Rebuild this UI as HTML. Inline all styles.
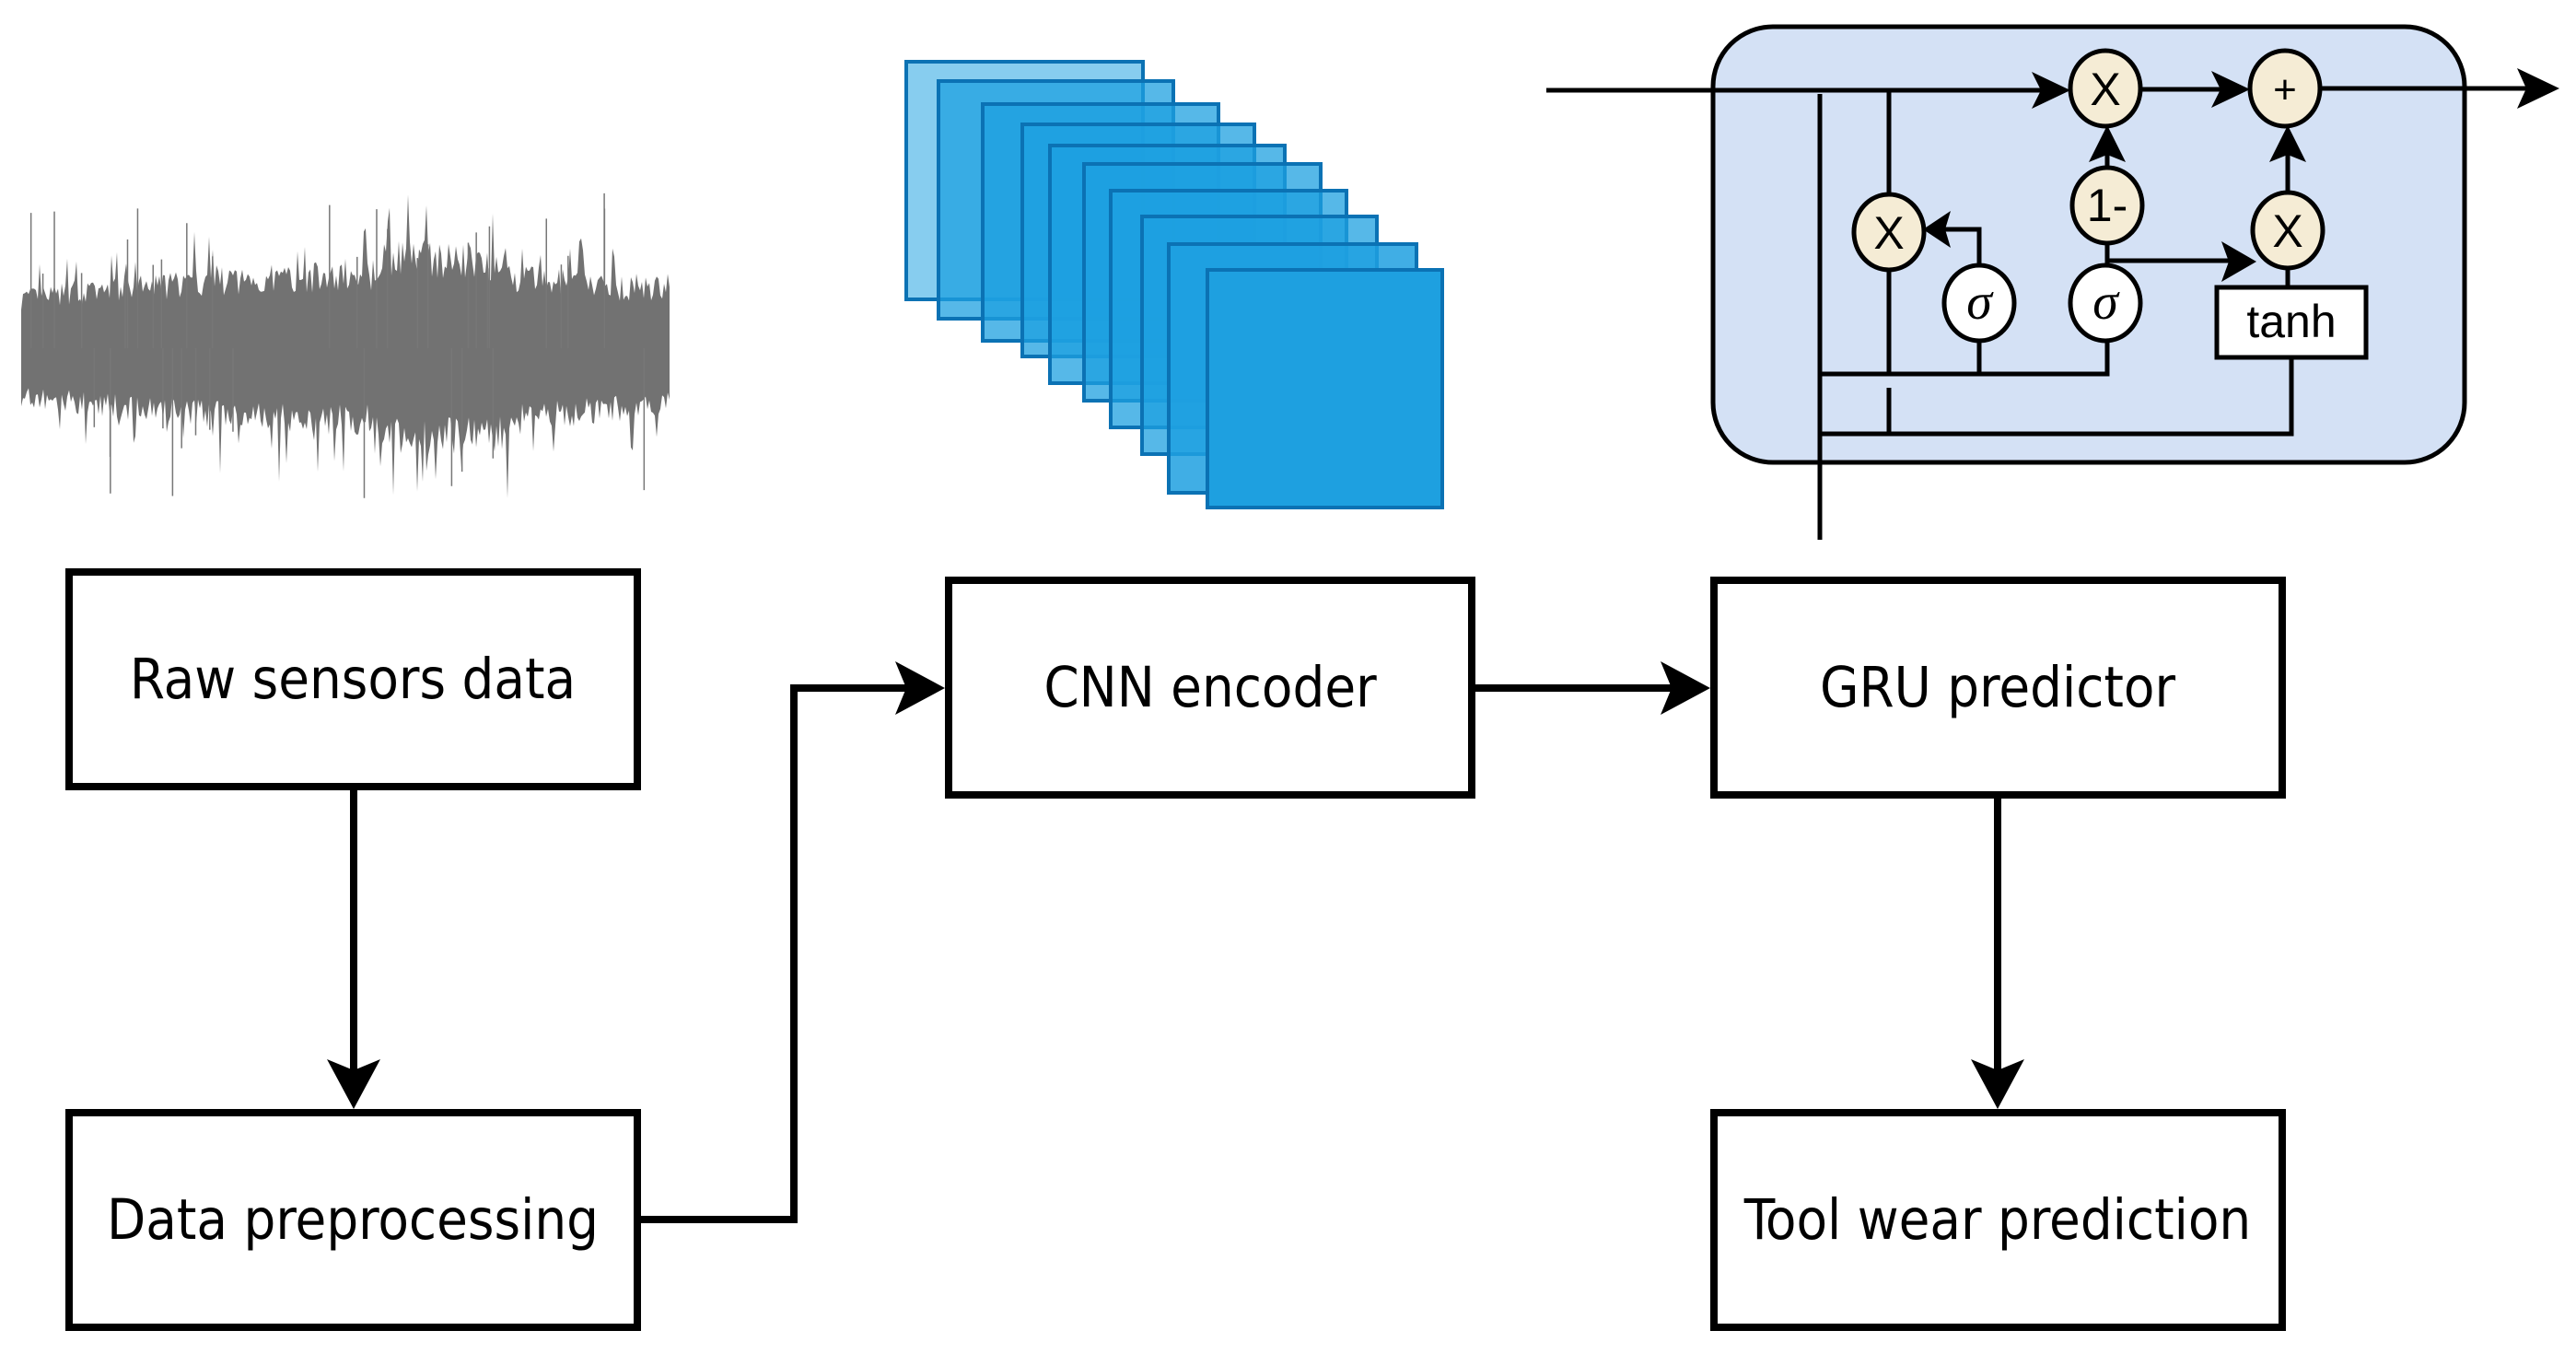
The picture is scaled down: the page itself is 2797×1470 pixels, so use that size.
<!DOCTYPE html>
<html><head><meta charset="utf-8">
<style>
html,body{margin:0;padding:0;background:#fff;}
svg{display:block;}
.lbl{font-family:"DejaVu Sans Condensed","DejaVu Sans","Liberation Sans",sans-serif;font-size:61px;fill:#000;}
.g{font-family:"Liberation Sans",sans-serif;fill:#000;}
</style></head>
<body>
<svg id="s" width="2797" height="1470" viewBox="0 0 2797 1470" xmlns="http://www.w3.org/2000/svg">
<!-- waveform -->
<g id="wave"></g>

<!-- CNN stack -->
<g stroke="#0b72b4" stroke-width="4">
<rect x="984" y="67" width="257" height="258" fill="#87cdef"/>
<rect x="1019" y="88" width="255" height="258" fill="#1ea0e0" fill-opacity="0.75"/>
<rect x="1067" y="113" width="256" height="257" fill="#1ea0e0" fill-opacity="0.75"/>
<rect x="1110" y="135" width="252" height="252" fill="#1ea0e0" fill-opacity="0.75"/>
<rect x="1140" y="158" width="255" height="258" fill="#1ea0e0" fill-opacity="0.75"/>
<rect x="1177" y="178" width="257" height="257" fill="#1ea0e0" fill-opacity="0.75"/>
<rect x="1206" y="207" width="256" height="257" fill="#1ea0e0" fill-opacity="0.75"/>
<rect x="1240" y="235" width="255" height="258" fill="#1ea0e0" fill-opacity="0.75"/>
<rect x="1269" y="265" width="269" height="270" fill="#1ea0e0" fill-opacity="0.85"/>
<rect x="1311" y="293" width="255" height="258" fill="#1ea0e0"/>
</g>

<!-- GRU cell -->
<rect x="1860" y="29" width="816" height="473" rx="65" ry="65" fill="#d4e1f5" stroke="#000" stroke-width="5"/>
<g stroke="#000" stroke-width="5" fill="none">
<line x1="1679" y1="98" x2="2230" y2="98"/>
<line x1="2324" y1="97" x2="2425" y2="97"/>
<line x1="2519" y1="96" x2="2760" y2="96"/>
<line x1="1976" y1="102" x2="1976" y2="586"/>
<line x1="2051" y1="98" x2="2051" y2="214"/>
<line x1="2051" y1="290" x2="2051" y2="406"/>
<polyline points="1976,406 2288,406 2288,367"/>
<line x1="2149" y1="367" x2="2149" y2="406"/>
<polyline points="2149,291 2149,249 2108,249"/>
<line x1="2288" y1="291" x2="2288" y2="261"/>
<line x1="2288" y1="185" x2="2288" y2="150"/>
<line x1="2288" y1="283" x2="2430" y2="283"/>
<line x1="2484" y1="212" x2="2484" y2="150"/>
<line x1="2484" y1="288" x2="2484" y2="312"/>
<polyline points="2488,388 2488,471 1976,471"/>
<line x1="2051" y1="421" x2="2051" y2="471"/>
</g>
<g fill="#000">
<polygon points="2248,98 2206,78 2216,98 2206,118"/>
<polygon points="2443,97 2401,77 2411,97 2401,117"/>
<polygon points="2779,96 2733,74 2743,96 2733,118"/>
<polygon points="2088,249 2118,229 2112,249 2118,269"/>
<polygon points="2288,136 2268,176 2288,168 2308,176"/>
<polygon points="2484,136 2464,176 2484,168 2504,176"/>
<polygon points="2450,284 2412,262 2420,284 2412,306"/>
</g>
<g stroke="#000" stroke-width="5">
<ellipse cx="2286" cy="96" rx="38" ry="41" fill="#f5ecd5"/>
<ellipse cx="2481" cy="96" rx="38" ry="41" fill="#f5ecd5"/>
<ellipse cx="2051" cy="252" rx="38" ry="41" fill="#f5ecd5"/>
<ellipse cx="2288" cy="223" rx="38" ry="41" fill="#f5ecd5"/>
<ellipse cx="2484" cy="250" rx="38" ry="41" fill="#f5ecd5"/>
<ellipse cx="2149" cy="329" rx="38" ry="41" fill="#fff"/>
<ellipse cx="2286" cy="329" rx="38" ry="41" fill="#fff"/>
<rect x="2407" y="312" width="162" height="76" fill="#fff"/>
</g>
<g class="g" text-anchor="middle" font-size="50">
<text x="2286" y="114">X</text>
<text x="2481" y="112" font-size="44">+</text>
<text x="2051" y="270">X</text>
<text x="2288" y="240">1-</text>
<text x="2484" y="268">X</text>
<text x="2149" y="346" font-style="italic" font-family="Liberation Serif,serif" font-size="56">σ</text>
<text x="2286" y="346" font-style="italic" font-family="Liberation Serif,serif" font-size="56">σ</text>
<text x="2488" y="366" font-size="50">tanh</text>
</g>

<!-- boxes -->
<g fill="#fff" stroke="#000" stroke-width="8">
<rect x="75" y="621" width="617" height="233"/>
<rect x="75" y="1208" width="617" height="233"/>
<rect x="1030" y="630" width="568" height="233"/>
<rect x="1861" y="630" width="617" height="233"/>
<rect x="1861" y="1208" width="617" height="233"/>
</g>
<g class="lbl" text-anchor="middle">
<text x="383" y="758">Raw sensors data</text>
<text x="383" y="1345">Data preprocessing</text>
<text x="1314" y="767">CNN encoder</text>
<text x="2169" y="767">GRU predictor</text>
<text x="2169" y="1345">Tool wear prediction</text>
</g>
<!-- connectors -->
<g stroke="#000" stroke-width="8" fill="none">
<line x1="384" y1="858" x2="384" y2="1170"/>
<polyline points="696,1324 862,1324 862,747 995,747"/>
<line x1="1602" y1="747" x2="1825" y2="747"/>
<line x1="2169" y1="867" x2="2169" y2="1175"/>
</g>
<g fill="#000">
<polygon points="384,1204 355,1150 384,1162 413,1150"/>
<polygon points="1026,747 972,718 984,747 972,776"/>
<polygon points="1857,747 1803,718 1815,747 1803,776"/>
<polygon points="2169,1204 2140,1150 2169,1162 2198,1150"/>
</g>
</svg>
<script>
(function(){
var g=document.getElementById('wave');
var seed=7;function r(){seed=(seed*16807)%2147483647;return seed/2147483647;}
var cy=378,x0=23,x1=728;
var top=[],bot=[];
for(var x=x0;x<=x1;x+=2){
 var t=(x-x0)/(x1-x0);
 var env=52+24*Math.sin(t*Math.PI*0.9)+ (t>0.55&&t<0.75?18:0);
 var a=env*(0.8+0.45*r());
 var b=env*(0.8+0.45*r());
 if(r()<0.08)a*=1.5; if(r()<0.08)b*=1.6;
 top.push(x+','+(cy-a).toFixed(1));bot.unshift(x+','+(cy+b).toFixed(1));
}
var p=document.createElementNS('http://www.w3.org/2000/svg','polygon');
p.setAttribute('points',top.concat(bot).join(' '));
p.setAttribute('fill','#727272');
g.appendChild(p);
for(var i=0;i<40;i++){
 var x=x0+r()*(x1-x0);var h=70+r()*100;
 var l=document.createElementNS('http://www.w3.org/2000/svg','line');
 var up=r()<0.5;
 l.setAttribute('x1',x);l.setAttribute('x2',x);
 l.setAttribute('y1',cy);l.setAttribute('y2',up?cy-h:cy+h);
 l.setAttribute('stroke','#777');l.setAttribute('stroke-width','1.5');
 g.appendChild(l);
}
})();
</script>
</body></html>
